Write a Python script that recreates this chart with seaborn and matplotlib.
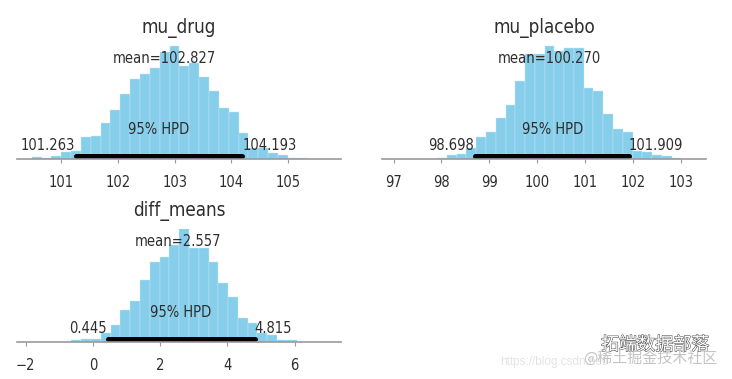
import matplotlib
matplotlib.use('Agg')
import matplotlib.pyplot as plt
import matplotlib.patheffects as pe
import seaborn as sns

# histogram bin edges and heights
drug_edges = [100.483, 100.657, 100.830, 101.004, 101.177, 101.351, 101.524, 101.698, 101.871, 102.045,
              102.218, 102.392, 102.565, 102.739, 102.912, 103.086, 103.259, 103.433, 103.606, 103.780,
              103.953, 104.127, 104.300, 104.474, 104.647, 104.821, 104.994, 105.168, 105.341]
drug_counts = [5, 2, 10, 22, 25, 66, 70, 108, 148, 195, 239, 254, 273, 322, 339, 279, 287, 247, 203, 152,
               142, 77, 32, 32, 19, 13, 4, 3]

placebo_edges = [97.911, 98.115, 98.319, 98.522, 98.726, 98.930, 99.134, 99.338, 99.541, 99.745, 99.949,
                 100.153, 100.357, 100.560, 100.764, 100.968, 101.172, 101.376, 101.579, 101.783, 101.987,
                 102.191, 102.395, 102.598, 102.802, 103.006]
placebo_counts = [3, 12, 14, 32, 65, 80, 122, 162, 235, 314, 314, 339, 325, 332, 332, 213, 203, 136, 91, 80,
                  25, 22, 12, 8, 4]

diff_edges = [-0.642, -0.351, -0.059, 0.232, 0.524, 0.815, 1.106, 1.398, 1.689, 1.981, 2.272, 2.563, 2.855,
              3.146, 3.438, 3.729, 4.020, 4.312, 4.603, 4.895, 5.186, 5.478, 5.769, 6.060]
diff_counts = [8, 9, 11, 29, 52, 97, 124, 186, 241, 256, 292, 340, 282, 282, 241, 178, 135, 74, 57, 27, 21, 6, 6]

drug_hpd = [101.263, 104.193]
placebo_hpd = [98.698, 101.909]
diff_hpd = [0.445, 4.815]

drug_mean = '102.827'
placebo_mean = '100.270'
diff_mean = '2.557'

drug_ticks = [101, 102, 103, 104, 105]
placebo_ticks = [97, 98, 99, 100, 101, 102, 103]
diff_ticks = [-2, 0, 2, 4, 6]

W, H = 732, 379
TEXT = '#2e2e2e'
AXIS = '#9a9a9a'

sns.set_theme(style='white')
plt.rcParams['font.stretch'] = 'condensed'
fig = plt.figure(figsize=(W / 100, H / 100), dpi=100)


def posterior_panel(box, xlim, name, edges, counts, hpd, mean, ticks, mean_x, hpd_x, low_x, high_x):
    left, top, right, bottom = box
    ax = fig.add_axes([left / W, 1 - bottom / H, (right - left) / W, (bottom - top) / H])
    sns.histplot(x=edges[:-1], weights=counts, bins=edges, color='#87ceeb', alpha=1,
                 edgecolor='#c4e8f6', linewidth=0.3, ax=ax)
    ax.plot(hpd, [10, 10], color='black', lw=3.6, solid_capstyle='round')
    ax.set_xlim(xlim)
    ax.set_ylim(0, 357)
    ax.set_ylabel('')
    ax.set_yticks([])
    ax.set_xticks(ticks)
    ax.tick_params(axis='x', bottom=True, length=3, width=0.8, color=AXIS, labelsize=10.5,
                   labelcolor=TEXT, pad=8.5)
    sns.despine(ax=ax, left=True)
    ax.spines['bottom'].set_color(AXIS)
    ax.spines['bottom'].set_linewidth(1.2)
    ax.set_title(name, fontsize=13.5, color=TEXT, pad=5)
    ax.text(mean_x, 302, 'mean=' + mean, ha='center', va='center', fontsize=10.5, color=TEXT)
    ax.text(hpd_x, 88, '95% HPD', ha='center', va='center', fontsize=10.5, color=TEXT)
    ax.text(low_x, 40, f'{hpd[0]:.3f}', ha='center', va='center', fontsize=10.5, color=TEXT)
    ax.text(high_x, 40, f'{hpd[1]:.3f}', ha='center', va='center', fontsize=10.5, color=TEXT)
    return ax


posterior_panel((17, 40, 341, 159), (100.225, 105.93), 'mu_drug', drug_edges, drug_counts, drug_hpd,
                drug_mean, drug_ticks, 102.82, 102.72, 100.77, 104.68)
posterior_panel((382, 40, 706, 159), (96.76, 103.52), 'mu_placebo', placebo_edges, placebo_counts, placebo_hpd,
                placebo_mean, placebo_ticks, 100.26, 100.31, 98.2, 102.48)
posterior_panel((17, 223.3, 341, 342.3), (-2.26, 7.38), 'diff_means', diff_edges, diff_counts, diff_hpd,
                diff_mean, diff_ticks, 2.54, 2.62, -0.14, 5.37)

# watermarks in the lower right corner
fig.text(500 / W, 1 - 362 / H, 'https://blog.csdn.net/', fontsize=8.5, color='#e4e4e4',
         family='Liberation Sans', va='center')
fig.text(655 / W, 1 - 345 / H, '拓端数据部落', fontsize=13, color='white', ha='center', va='center',
         family=['Noto Sans CJK SC', 'DejaVu Sans'],
         path_effects=[pe.withStroke(linewidth=0.8, foreground='#555555')])
fig.text(650 / W, 1 - 358 / H, '@稀土掘金技术社区', fontsize=10.8, color='#c4c4c4', ha='center', va='center',
         family=['Noto Sans CJK SC', 'DejaVu Sans'])

fig.savefig('out.png', dpi=100)
